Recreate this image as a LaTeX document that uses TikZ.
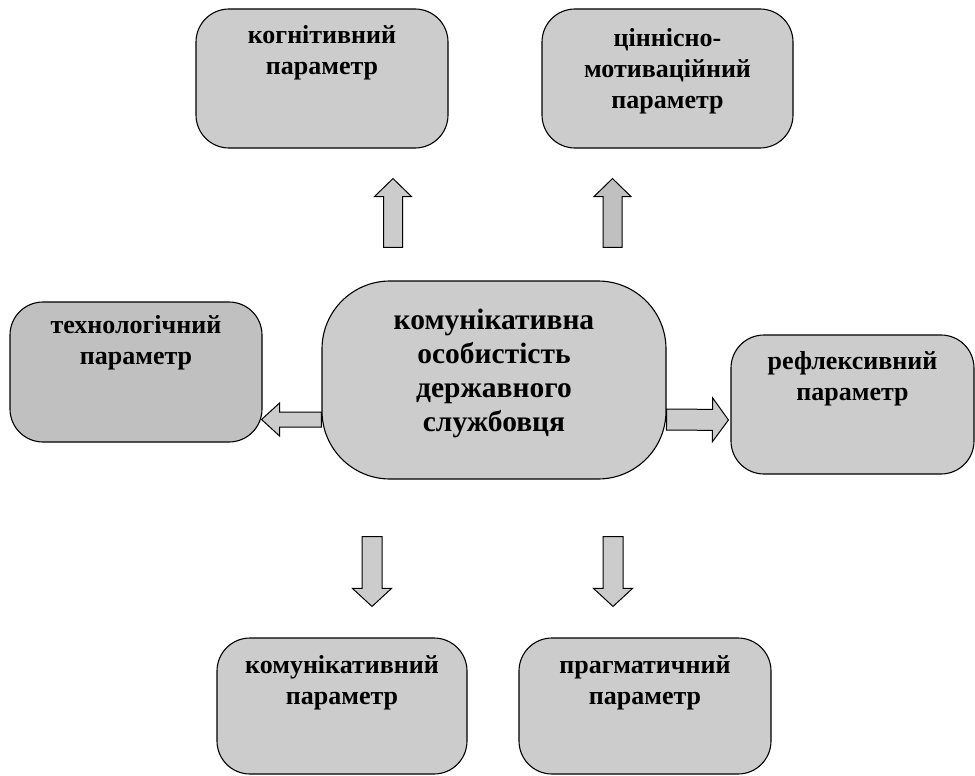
\documentclass[tikz,border=0pt]{standalone}
\usepackage{fontspec}
\setmainfont{Liberation Serif}
\usepackage{xcolor}
\usetikzlibrary{calc, positioning}

\definecolor{boxgray}{HTML}{CCCCCC}
\definecolor{boxdark}{HTML}{C0C0C0}

\tikzset{
  param/.style={draw, fill=boxgray, line width=1.1pt, rounded corners=33pt, inner sep=0pt},
  lbl/.style={align=center, inner sep=0pt, font=\bfseries\fontsize{26}{31}\selectfont},
  barrow/.style n args={3}{draw, fill=boxgray, line width=1pt, line join=miter,
    to path={let \p1=($(\tikztotarget)!#3!(\tikztostart)$) in
      ($(\tikztostart)!#1!90:(\tikztotarget)$)
      -- ($(\p1)!#1!90:(\tikztotarget)$)
      -- ($(\p1)!#2!90:(\tikztotarget)$)
      -- (\tikztotarget)
      -- ($(\p1)!#2!-90:(\tikztotarget)$)
      -- ($(\p1)!#1!-90:(\tikztotarget)$)
      -- ($(\tikztostart)!#1!-90:(\tikztotarget)$)
      -- cycle}}
}

\begin{document}
\begin{tikzpicture}[x=1pt, y=-1pt]
    \useasboundingbox (0,0) rectangle (975,776);

    % Centro
    \node[param, minimum width=344pt, minimum height=198pt, rounded corners=68pt] (cent) at (494,380) {};
    \node[lbl, font=\bfseries\fontsize{29.5}{34}\selectfont] (centt) at ([yshift=6.5pt]cent.center)
        {комунікативна\\особистість\\державного\\службовця};

    % Parametri
    \node[param, minimum width=252pt, minimum height=139pt] (kogn) at (322,78.5) {};
    \node[param, minimum width=251pt, minimum height=139pt] (cinn) at (667.5,78.5) {};
    \node[param, minimum width=252pt, minimum height=140pt, fill=boxdark] (tekh) at (136,372) {};
    \node[param, minimum width=243pt, minimum height=139pt] (refl) at (852.5,404.5) {};
    \node[param, minimum width=250pt, minimum height=136pt] (komu) at (342,706) {};
    \node[param, minimum width=252pt, minimum height=136pt] (prag) at (645,706) {};

    \node[lbl, below=17pt of kogn.north] (kognt) {когнітивний\\параметр};
    \node[lbl, below=20pt of cinn.north] (cinnt) {ціннісно-\\мотиваційний\\параметр};
    \node[lbl, below=14pt of tekh.north] (tekht) {технологічний\\параметр};
    \node[lbl, below=17pt of refl.north] (reflt) {рефлексивний\\параметр};
    \node[lbl, below=18pt of komu.north] (komut) {комунікативний\\параметр};
    \node[lbl, below=18pt of prag.north] (pragt) {прагматичний\\параметр};

    % Frecce
    \draw[barrow={9.5pt}{18.5pt}{18pt}] ([xshift=-101pt,yshift=33pt]cent.north) to ([xshift=71pt,yshift=-30pt]kogn.south);
    \draw[barrow={9.5pt}{18.5pt}{18pt}, fill=boxdark] ([xshift=118.5pt,yshift=33pt]cent.north) to ([xshift=-55pt,yshift=-30pt]cinn.south);
    \draw[barrow={10pt}{19.5pt}{18pt}] ([xshift=-122pt,yshift=-57pt]cent.south) to ([xshift=30pt,yshift=31pt]komu.north);
    \draw[barrow={10pt}{19.5pt}{18pt}] ([xshift=119pt,yshift=-57pt]cent.south) to ([xshift=-32pt,yshift=31pt]prag.north);
    \draw[barrow={7.5pt}{16.5pt}{18pt}] ([yshift=-39.5pt]cent.west) to ([xshift=-1pt,yshift=-47.5pt]tekh.east);
    \draw[barrow={10.5pt}{22pt}{16pt}] ([yshift=-39.5pt]cent.east) to ([xshift=-2pt,yshift=-15.5pt]refl.west);
\end{tikzpicture}
\end{document}
